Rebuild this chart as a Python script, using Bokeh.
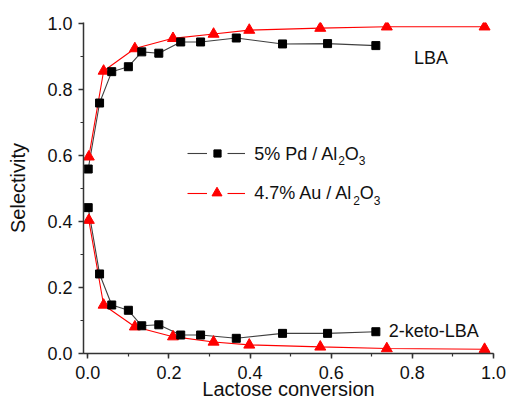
from bokeh.plotting import figure
from bokeh.models import (Range1d, SingleIntervalTicker, PrintfTickFormatter,
                          Legend, LegendItem, Label)
from bokeh.embed import file_html
from bokeh.resources import INLINE

# Data
pd_conv = [0.001, 0.029, 0.059, 0.100, 0.133, 0.175, 0.229, 0.278, 0.366, 0.480, 0.591, 0.710]
pd_lba = [0.559, 0.759, 0.854, 0.869, 0.914, 0.910, 0.944, 0.944, 0.956, 0.938, 0.939, 0.933]
pd_keto = [0.442, 0.241, 0.147, 0.131, 0.084, 0.087, 0.056, 0.056, 0.046, 0.061, 0.061, 0.066]

au_conv = [0.0025, 0.039, 0.116, 0.210, 0.310, 0.398, 0.573, 0.737, 0.978]
au_lba = [0.596, 0.856, 0.924, 0.955, 0.968, 0.980, 0.986, 0.990, 0.990]
au_keto = [0.404, 0.147, 0.081, 0.051, 0.035, 0.026, 0.020, 0.015, 0.013]

# legend texts split into (main, sub, main, sub) pieces for Al2O3 subscripts
pd_label_parts = ["5% Pd / Al", "2", "O", "3"]
au_label_parts = ["4.7% Au / Al", "2", "O", "3"]
x_title = "Lactose conversion"
y_title = "Selectivity"
lba_note = "LBA"
keto_note = "2-keto-LBA"

FONT = "Liberation Sans"
BLACK_LINE = "#404040"
RED = "#ff0000"
TXT = "#111111"

p = figure(width=506, height=406, output_backend="svg", toolbar_location=None,
           x_range=Range1d(-0.0106, 1.0), y_range=Range1d(0.0, 1.003),
           min_border_left=83, min_border_right=13, min_border_top=22,
           min_border_bottom=53)
p.outline_line_color = None
p.grid.visible = False

for ax, title in ((p.xaxis[0], x_title), (p.yaxis[0], y_title)):
    ax.ticker = SingleIntervalTicker(interval=0.2, num_minor_ticks=2)
    ax.formatter = PrintfTickFormatter(format="%.1f")
    ax.axis_label = title
    ax.axis_label_text_font = FONT
    ax.axis_label_text_font_style = "normal"
    ax.axis_label_text_font_size = "20px"
    ax.axis_label_text_color = TXT
    ax.major_label_text_font = FONT
    ax.major_label_text_font_size = "18px"
    ax.major_label_text_color = TXT
    ax.axis_line_color = "#333333"
    ax.axis_line_width = 1.5
    ax.major_tick_line_color = "#333333"
    ax.minor_tick_line_color = "#333333"
    ax.major_tick_line_width = 1.5
    ax.minor_tick_line_width = 1.2
    ax.major_tick_out = 5
    ax.major_tick_in = 0
    ax.minor_tick_out = 3
    ax.minor_tick_in = 0

p.xaxis[0].major_label_standoff = 7
p.xaxis[0].axis_label_standoff = -4
p.yaxis[0].major_label_standoff = 6
p.yaxis[0].axis_label_standoff = 15

# Pd series
pd_l1 = p.line(pd_conv, pd_lba, line_color=BLACK_LINE, line_width=1.1)
p.line(pd_conv, pd_keto, line_color=BLACK_LINE, line_width=1.1)
# Au series
au_l1 = p.line(au_conv, au_lba, line_color=RED, line_width=1.1)
p.line(au_conv, au_keto, line_color=RED, line_width=1.1)

au_m1 = p.scatter(au_conv, au_lba, marker="triangle", size=11, fill_color=RED, line_color=RED)
p.scatter(au_conv, au_keto, marker="triangle", size=11, fill_color=RED, line_color=RED)
pd_m1 = p.scatter(pd_conv, pd_lba, marker="square", size=8, fill_color="black", line_color="black")
p.scatter(pd_conv, pd_keto, marker="square", size=8, fill_color="black", line_color="black")

# Legend sample "— marker —": split into left line pieces, markers, right line pieces
common = dict(orientation="vertical", padding=0, margin=0, label_standoff=0,
              border_line_color=None, background_fill_alpha=0,
              label_text_font=FONT, label_text_font_size="6px")

leg_left = Legend(items=[LegendItem(label=" ", renderers=[pd_l1]),
                         LegendItem(label=" ", renderers=[au_l1])],
                  location=(104, 150), glyph_width=20, glyph_height=20,
                  label_height=20, spacing=20, **common)
leg_right = Legend(items=[LegendItem(label=" ", renderers=[pd_l1]),
                          LegendItem(label=" ", renderers=[au_l1])],
                   location=(144, 150), glyph_width=18, glyph_height=20,
                   label_height=20, spacing=20, **common)
leg_sq = Legend(items=[LegendItem(label=" ", renderers=[pd_m1])],
                location=(125, 191), glyph_width=18, glyph_height=18,
                label_height=18, **common)
leg_tri = Legend(items=[LegendItem(label=" ", renderers=[au_m1])],
                 location=(121, 148), glyph_width=25, glyph_height=25,
                 label_height=25, **common)
for lg in (leg_left, leg_right, leg_sq, leg_tri):
    p.add_layout(lg, "center")

# legend label texts with subscripts (anchor at text start, vertical middle)
def add_formula(parts, x, y):
    main, sub1, mid, sub2 = parts
    widths = {"5": .556, "%": .889, " ": .278, "P": .667, "d": .556, "/": .278,
              "A": .667, "l": .222, "4": .556, ".": .278, "7": .556, "u": .556}
    w_main = sum(widths[ch] for ch in main) * 18
    pieces = [(main, 0, 0, "18px"), (sub1, w_main, -7, "12px"),
              (mid, w_main + 0.556 * 12, 0, "18px"),
              (sub2, w_main + 0.556 * 12 + 0.778 * 18, -7, "12px")]
    for text, dx, dy, size in pieces:
        p.add_layout(Label(x=x, y=y, x_offset=dx, y_offset=dy, text=text,
                           text_font=FONT, text_font_size=size, text_color=TXT,
                           text_baseline="middle", text_align="left"))

add_formula(pd_label_parts, 0.41, 0.606)
add_formula(au_label_parts, 0.41, 0.485)

p.add_layout(Label(x=0.804, y=0.896, text=lba_note, text_font=FONT,
                   text_font_size="18px", text_color=TXT,
                   text_baseline="middle"))
p.add_layout(Label(x=0.742, y=0.069, text=keto_note, text_font=FONT,
                   text_font_size="18px", text_color=TXT,
                   text_baseline="middle"))

open("out.html", "w").write(file_html(p, INLINE))
